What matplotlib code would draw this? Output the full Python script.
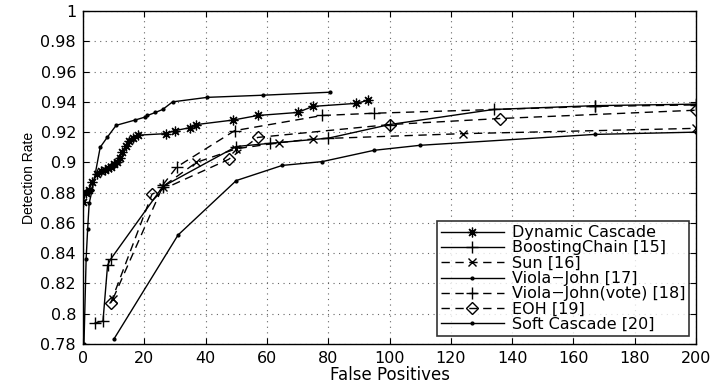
import matplotlib
matplotlib.use('Agg')
import matplotlib.pyplot as plt
from matplotlib.ticker import FuncFormatter

plt.rcParams['font.family'] = ['DejaVu Sans']

# detection rate vs false positives for each detector
dyn_fp = [0, 1, 2, 3, 4.6, 6, 7, 8, 9, 10, 11, 12, 12.8, 14, 15, 16.4, 18, 27, 30, 35, 37, 49, 57, 70, 75, 89, 93]
dyn_dr = [0.874, 0.880, 0.882, 0.887, 0.892, 0.894, 0.895, 0.896, 0.897, 0.899, 0.900, 0.903, 0.907,
          0.911, 0.914, 0.916, 0.918, 0.919, 0.921, 0.923, 0.925, 0.928, 0.931, 0.933, 0.937, 0.939, 0.941]

boost_fp = [4, 6.5, 8, 9, 26, 50, 61, 80, 100, 134, 167, 200]
boost_dr = [0.794, 0.795, 0.832, 0.836, 0.884, 0.9105, 0.9126, 0.916, 0.925, 0.935, 0.9375, 0.9385]

sun_fp = [9.8, 26, 37, 50, 64, 75, 124, 200]
sun_dr = [0.810, 0.884, 0.900, 0.909, 0.913, 0.9155, 0.919, 0.9225]

vj_fp = [10, 31, 50, 65, 78, 95, 110, 167, 200]
vj_dr = [0.783, 0.852, 0.888, 0.898, 0.9005, 0.908, 0.9113, 0.9185, 0.920]

vote_fp = [26, 30.6, 49.5, 78, 95, 167, 200]
vote_dr = [0.885, 0.897, 0.921, 0.931, 0.9325, 0.937, 0.938]

eoh_fp = [9, 22.5, 47.5, 57, 100, 136, 200]
eoh_dr = [0.807, 0.879, 0.902, 0.9165, 0.925, 0.929, 0.9345]

soft_fp = [0.3, 1, 1.5, 2, 3, 5.6, 7.9, 10.8, 17, 20.3, 21, 23.6, 26, 29.2, 40.6, 58.7, 80.7]
soft_dr = [0.780, 0.836, 0.856, 0.873, 0.882, 0.910, 0.9166, 0.9245, 0.928, 0.930, 0.931,
           0.933, 0.935, 0.940, 0.943, 0.9444, 0.9464]

fig = plt.figure(figsize=(7.16, 3.83), dpi=100)
ax = fig.add_axes([0.116, 0.102, 0.856, 0.869])

lw = 1.0
ax.plot(dyn_fp, dyn_dr, '-', color='k', lw=lw, marker=(8, 2, 0), ms=7, mew=0.9,
        label='Dynamic Cascade')
ax.plot(boost_fp, boost_dr, '-', color='k', lw=lw, marker='+', ms=9, mew=1.0,
        label='BoostingChain [15]')
ax.plot(sun_fp, sun_dr, '--', color='k', lw=lw, marker='x', ms=6, mew=1.0, dashes=(6, 4),
        label='Sun [16]')
ax.plot(vj_fp, vj_dr, '-', color='k', lw=lw, marker='.', ms=4,
        label='Viola\u2212John [17]')
ax.plot(vote_fp, vote_dr, '--', color='k', lw=lw, marker='+', ms=9, mew=1.0, dashes=(6, 4),
        label='Viola\u2212John(vote) [18]')
ax.plot(eoh_fp, eoh_dr, '--', color='k', lw=lw, marker='D', ms=6, mfc='none', mew=1.0,
        dashes=(6, 4), label='EOH [19]')
ax.plot(soft_fp, soft_dr, '-', color='k', lw=lw, marker='.', ms=4,
        label='Soft Cascade [20]')

ax.set_xlim(0, 200)
ax.set_ylim(0.78, 1.0)
ax.set_xticks(range(0, 201, 20))
ax.set_yticks([0.78 + 0.02 * i for i in range(12)])
ax.yaxis.set_major_formatter(FuncFormatter(lambda v, p: '%g' % round(v, 2)))
ax.tick_params(direction='in', labelsize=11.5, length=4, top=True, right=True, pad=5)
ax.grid(True, linestyle=(0, (1, 4)), color='#666666', lw=0.8)
for s in ax.spines.values():
    s.set_linewidth(1.0)

ax.set_xlabel('False Positives', fontsize=12, labelpad=0)
ax.set_ylabel('Detection Rate', fontsize=10, labelpad=3, family='Liberation Sans')

leg = ax.legend(loc='lower right', bbox_to_anchor=(0.994, 0.014), fontsize=11.5, frameon=True,
                fancybox=False, edgecolor='k', handlelength=4.0, labelspacing=0.02,
                borderpad=0.25, handletextpad=0.45, borderaxespad=0.2)
leg.get_frame().set_linewidth(1.2)

fig.savefig('out.png', dpi=100)
